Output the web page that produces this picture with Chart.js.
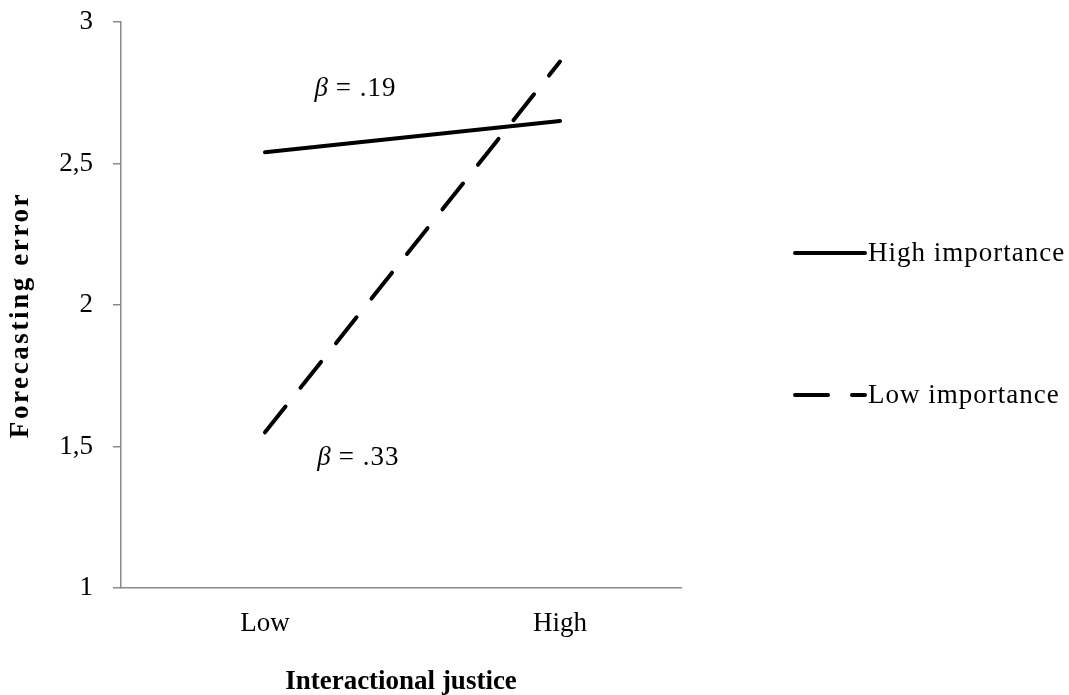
<!DOCTYPE html>
<html>
<head>
<meta charset="utf-8">
<script src="https://cdn.jsdelivr.net/npm/chart.js@4/dist/chart.umd.min.js"></script>
<style>
  html, body { margin: 0; padding: 0; background: #ffffff; }
  #wrap { width: 1069px; height: 695px; }
</style>
</head>
<body>
<div id="wrap"><canvas id="c" width="1069" height="695"></canvas></div>
<script>
// Categories on the horizontal axis
const categories = ['Low', 'High'];
// Series names
const seriesNames = ['High importance', 'Low importance'];
// Forecasting error at low / high interactional justice
const highImportance = [2.54, 2.65];
const lowImportance = [1.55, 2.86];
// Vertical axis ticks
const yTicks = [1, 1.5, 2, 2.5, 3];
// Axis titles
const xTitle = 'Interactional justice';
const yTitle = 'Forecasting error';
// Simple-slope labels: [text, x (category units), y (axis units)]
const slopeText = ['.19', '.33'];
const slopeAt = [[0.30, 2.765], [0.31, 1.46]];

const FONT = '"Liberation Serif", "Times New Roman", serif';

const toPoints = arr => arr.map((v, i) => ({ x: i, y: v }));

// Legend drawn at the right of the plot, one row per series
const sideLegend = {
  id: 'sideLegend',
  afterDraw(chart) {
    const ctx = chart.ctx;
    const x0 = 795, rows = [253, 395], sample = 70;
    chart.data.datasets.forEach((ds, i) => {
      const y = rows[i];
      ctx.save();
      ctx.strokeStyle = ds.borderColor;
      ctx.lineWidth = ds.borderWidth;
      ctx.lineCap = ds.borderCapStyle || 'butt';
      ctx.setLineDash(ds.borderDash || []);
      ctx.beginPath();
      ctx.moveTo(x0, y);
      ctx.lineTo(x0 + sample, y);
      ctx.stroke();
      ctx.setLineDash([]);
      ctx.fillStyle = '#000';
      ctx.font = '27px ' + FONT;
      if ('letterSpacing' in ctx) ctx.letterSpacing = '1px';
      ctx.textBaseline = 'middle';
      ctx.textAlign = 'left';
      ctx.fillText(ds.label, x0 + sample + 3, y + 1);
      ctx.restore();
    });
  }
};

// Rotated, letter-spaced title for the vertical axis
const yAxisTitle = {
  id: 'yAxisTitle',
  afterDraw(chart) {
    const ctx = chart.ctx;
    const area = chart.chartArea;
    ctx.save();
    ctx.translate(21, (area.top + area.bottom) / 2 + 10);
    ctx.rotate(-Math.PI / 2);
    ctx.fillStyle = '#000';
    ctx.font = 'bold 27px ' + FONT;
    if ('letterSpacing' in ctx) ctx.letterSpacing = '2.6px';
    ctx.textAlign = 'center';
    ctx.textBaseline = 'middle';
    ctx.fillText(yTitle, 0, 0);
    ctx.restore();
  }
};

// Slope annotations placed in data units
const slopeNotes = {
  id: 'slopeNotes',
  afterDatasetsDraw(chart) {
    const ctx = chart.ctx;
    const xs = chart.scales.x, ys = chart.scales.y;
    slopeText.forEach((t, i) => {
      const cx = xs.getPixelForValue(slopeAt[i][0]);
      const cy = ys.getPixelForValue(slopeAt[i][1]);
      ctx.save();
      ctx.fillStyle = '#000';
      ctx.textBaseline = 'middle';
      ctx.textAlign = 'left';
      if ('letterSpacing' in ctx) ctx.letterSpacing = '1px';
      ctx.font = 'italic 27px ' + FONT;
      const wb = ctx.measureText('β').width + 3;
      ctx.font = '27px ' + FONT;
      const rest = '= ' + t;
      const wr = ctx.measureText(rest).width;
      const left = cx - (wb + wr) / 2;
      ctx.font = 'italic 27px ' + FONT;
      ctx.fillText('β', left, cy);
      ctx.font = '27px ' + FONT;
      ctx.fillText(rest, left + wb + 4, cy);
      ctx.restore();
    });
  }
};

new Chart(document.getElementById('c'), {
  type: 'line',
  data: {
    datasets: [
      {
        label: seriesNames[0],
        data: toPoints(highImportance),
        borderColor: '#000000',
        backgroundColor: '#000000',
        borderWidth: 4,
        borderCapStyle: 'round',
        pointRadius: 0,
        tension: 0
      },
      {
        label: seriesNames[1],
        data: toPoints(lowImportance),
        borderColor: '#000000',
        backgroundColor: '#000000',
        borderWidth: 4,
        borderCapStyle: 'round',
        borderDash: [33, 24],
        pointRadius: 0,
        tension: 0
      }
    ]
  },
  options: {
    responsive: false,
    animation: false,
    layout: { padding: { left: 0, right: 388, top: 22, bottom: 0 } },
    plugins: {
      legend: { display: false },
      tooltip: { enabled: false }
    },
    scales: {
      x: {
        type: 'linear',
        min: -0.488,
        max: 1.41,
        afterFit: s => { s.height = 107; s.paddingLeft = 0; s.paddingRight = 0; },
        afterBuildTicks: s => { s.ticks = categories.map((c, i) => ({ value: i })); },
        grid: { display: false },
        border: { display: true, color: '#898989', width: 1.5 },
        ticks: {
          color: '#000',
          padding: 12,
          font: { family: FONT, size: 27 },
          callback: v => categories[v] ?? ''
        },
        title: {
          display: true,
          text: xTitle,
          color: '#000',
          padding: { top: 0, bottom: -3 },
          font: { family: FONT, size: 27, weight: 'bold' }
        }
      },
      y: {
        min: yTicks[0],
        max: yTicks[yTicks.length - 1],
        afterFit: s => { s.width = 121; s.paddingTop = 0; s.paddingBottom = 0; },
        afterBuildTicks: s => { s.ticks = yTicks.map(v => ({ value: v })); },
        grid: {
          display: true,
          drawOnChartArea: false,
          drawTicks: true,
          tickLength: 8,
          color: '#898989',
          lineWidth: 1.5
        },
        border: { display: true, color: '#898989', width: 1.5 },
        ticks: {
          color: '#000',
          padding: 20,
          font: { family: FONT, size: 27 },
          callback: v => String(v).replace('.', ',')
        },
        title: { display: false }
      }
    }
  },
  plugins: [slopeNotes, yAxisTitle, sideLegend]
});
</script>
</body>
</html>
